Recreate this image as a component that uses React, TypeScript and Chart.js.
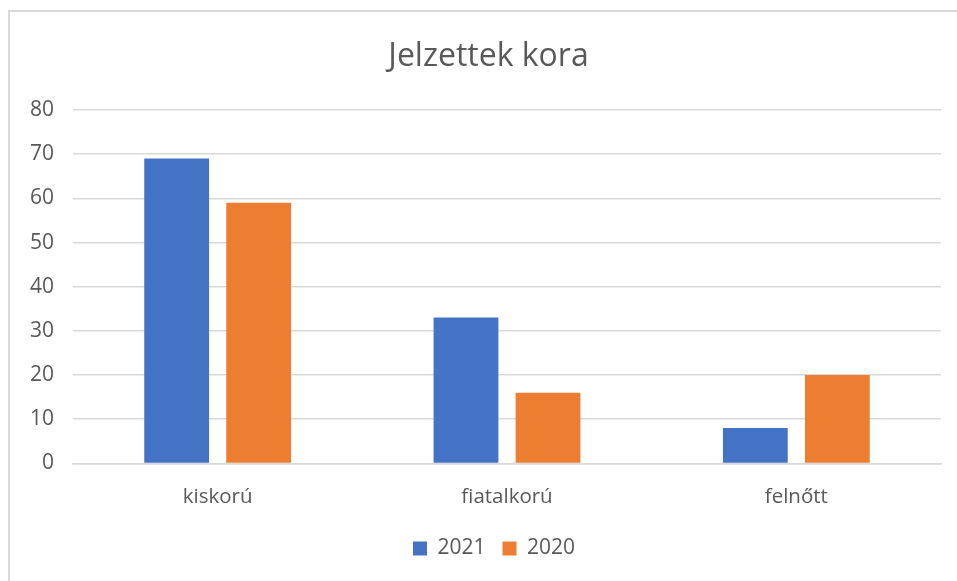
import React, { useEffect, useRef } from "react";
import { Chart, registerables } from "chart.js";

Chart.register(...registerables);

const categories = ["kiskorú", "fiatalkorú", "felnőtt"];
const series2021 = [69, 33, 8];
const series2020 = [59, 16, 20];
const seriesLabels = ["2021", "2020"];
const titleText = "Jelzettek kora";

const FONT = "'Open Sans', 'Noto Sans', sans-serif";
const TEXT = "#595959";
const GRID = "#d9d9d9";
const CANVAS_W = 957;
const CANVAS_H = 581;

// the original chart's frame is wider than the crop, so title and legend sit right of the canvas centre
const shiftBlocks = {
  id: "shiftBlocks",
  afterLayout(chart: any) {
    if (chart.titleBlock) chart.titleBlock.left += 36;
    if (chart.legend) chart.legend.left += 47;
  },
};

export default function App() {
  const ref = useRef<HTMLCanvasElement | null>(null);

  useEffect(() => {
    if (!ref.current) return;
    const chart = new Chart(ref.current, {
      type: "bar",
      data: {
        labels: categories,
        datasets: [
          {
            label: seriesLabels[0],
            data: series2021,
            backgroundColor: "#4472C4",
            categoryPercentage: 0.567,
            barPercentage: 0.79,
          },
          {
            label: seriesLabels[1],
            data: series2020,
            backgroundColor: "#ED7D31",
            categoryPercentage: 0.567,
            barPercentage: 0.79,
          },
        ],
      },
      plugins: [shiftBlocks],
      options: {
        responsive: false,
        animation: false,
        maintainAspectRatio: false,
        layout: { padding: { left: 0, right: 16, top: 0, bottom: 12 } },
        plugins: {
          title: {
            display: true,
            text: titleText,
            color: TEXT,
            font: { family: FONT, size: 32, weight: "normal" },
            padding: { top: 37.8, bottom: 33.8 },
          },
          legend: {
            position: "bottom",
            labels: {
              boxWidth: 14,
              boxHeight: 14,
              padding: 17,
              color: TEXT,
              font: { family: FONT, size: 21 },
            },
          },
          tooltip: { enabled: false },
        },
        scales: {
          x: {
            grid: { display: false, drawTicks: false },
            border: { display: true, color: GRID, width: 1.5 },
            ticks: {
              color: TEXT,
              padding: 21,
              font: { family: FONT, size: 20.5 },
            },
            afterFit: (scale: any) => {
              scale.height -= 9;
            },
          },
          y: {
            min: 0,
            max: 80,
            grid: { color: GRID, lineWidth: 1.5, drawTicks: false },
            border: { display: false },
            ticks: {
              stepSize: 10,
              color: TEXT,
              padding: 19,
              font: { family: FONT, size: 21 },
            },
            afterFit: (scale: any) => {
              scale.width = 73;
            },
          },
        },
      },
    });
    return () => chart.destroy();
  }, []);

  return (
    <div
      style={{
        position: "fixed",
        left: 0,
        top: 0,
        width: 957,
        height: 581,
        overflow: "hidden",
        background: "#ffffff",
      }}
    >
      <div
        style={{
          position: "absolute",
          left: 8,
          top: 10,
          width: 949,
          height: 2,
          background: GRID,
        }}
      />
      <div
        style={{
          position: "absolute",
          left: 8,
          top: 10,
          width: 2,
          height: 571,
          background: GRID,
        }}
      />
      <canvas
        ref={ref}
        width={CANVAS_W}
        height={CANVAS_H}
        style={{ position: "absolute", left: 0, top: 0 }}
      />
    </div>
  );
}
